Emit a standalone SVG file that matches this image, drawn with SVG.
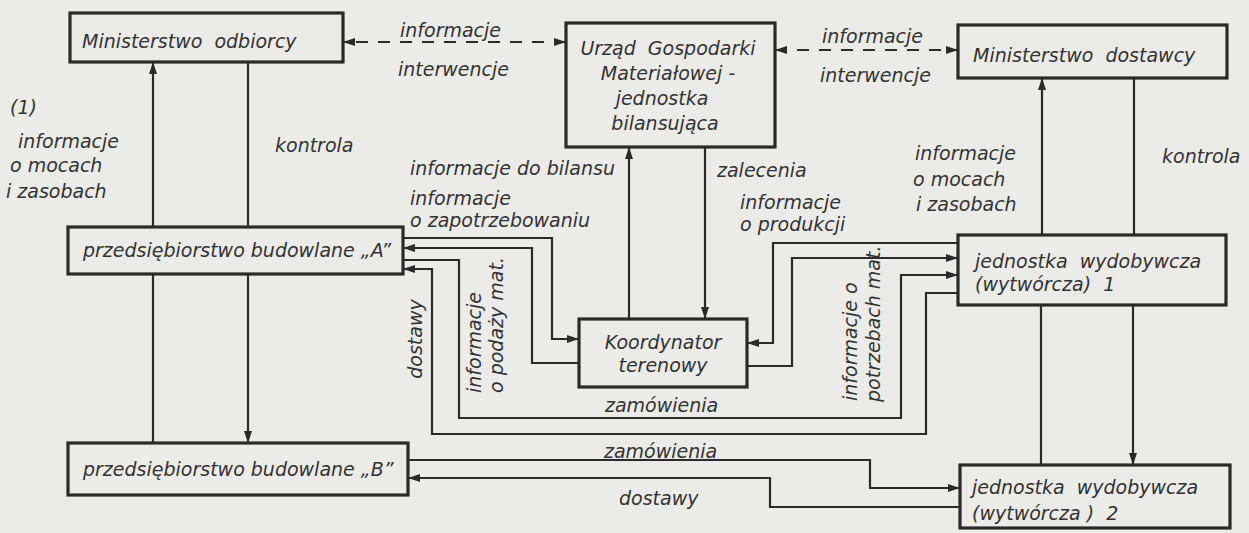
<svg xmlns="http://www.w3.org/2000/svg" width="1249" height="533" viewBox="0 0 1249 533">
<style>
.box{fill:#ebebe9;stroke:#2a2a2a;stroke-width:3.2}
.t{font-family:"DejaVu Sans",sans-serif;font-style:italic;font-size:19px;fill:#333}
.c{text-anchor:middle}
.ln{fill:none;stroke:#2a2a2a;stroke-width:2.2}
.ar{marker-end:url(#ah)}
.dash{stroke-dasharray:12 10;marker-start:url(#ah);marker-end:url(#ah)}
</style>
<defs>
<marker id="ah" markerUnits="userSpaceOnUse" markerWidth="13" markerHeight="9" refX="12" refY="4.5" orient="auto-start-reverse">
<path d="M0,0.5 L12,4.5 L0,8.5 z" fill="#2a2a2a"/>
</marker>
</defs>
<rect width="1249" height="533" fill="#ebebe9"/>

<g id="connectors">
<path class="ln dash" d="M566,42 H343"/>
<path class="ln dash" d="M775,50 H958"/>
<path class="ln ar" d="M153,227 V62"/>
<path class="ln" d="M153,443 V274"/>
<path class="ln" d="M248,62 V227"/>
<path class="ln ar" d="M248,274 V443"/>
<path class="ln ar" d="M629,319 V147"/>
<path class="ln ar" d="M705,147 V319"/>
<path class="ln ar" d="M1042,235 V78"/>
<path class="ln" d="M1134,78 V235"/>
<path class="ln" d="M1041,465 V305"/>
<path class="ln ar" d="M1133,305 V465"/>
<path class="ln ar" d="M403,238 H552 V339 H579"/>
<path class="ln ar" d="M579,363 H532 V248 H403"/>
<path class="ln ar" d="M403,260 H459 V418 H901 V275 H958"/>
<path class="ln ar" d="M958,293 H926 V434 H432 V269 H403"/>
<path class="ln ar" d="M958,243 H773 V343 H747"/>
<path class="ln ar" d="M747,366 H792 V258 H958"/>
<path class="ln ar" d="M408,460 H870 V488 H960"/>
<path class="ln ar" d="M960,507 H770 V478 H408"/>

<text class="t" x="400" y="37">informacje</text>
<text class="t" x="398" y="76">interwencje</text>
<text class="t" x="822" y="43">informacje</text>
<text class="t" x="820" y="82">interwencje</text>
<text class="t" x="10" y="114">(1)</text>
<text class="t" x="18" y="148">informacje</text>
<text class="t" x="10" y="172">o mocach</text>
<text class="t" x="6" y="198">i zasobach</text>
<text class="t" x="275" y="152">kontrola</text>
<text class="t" x="615" y="175" text-anchor="end">informacje do bilansu</text>
<text class="t" x="717" y="177">zalecenia</text>
<text class="t" x="410" y="205">informacje</text>
<text class="t" x="410" y="227">o zapotrzebowaniu</text>
<text class="t" x="740" y="209">informacje</text>
<text class="t" x="740" y="231">o produkcji</text>
<text class="t" x="915" y="160">informacje</text>
<text class="t" x="913" y="186">o mocach</text>
<text class="t" x="916" y="211">i zasobach</text>
<text class="t" x="1162" y="163">kontrola</text>
<text class="t c" transform="translate(422,339) rotate(-90)">dostawy</text>
<text class="t" transform="translate(481,393) rotate(-90)">informacje</text>
<text class="t" transform="translate(503,393) rotate(-90)">o podaży mat.</text>
<text class="t" transform="translate(857,401) rotate(-90)">informacje o</text>
<text class="t" transform="translate(880,402) rotate(-90)">potrzebach mat.</text>
<text class="t" x="605" y="412">zamówienia</text>
<text class="t" x="604" y="458">zamówienia</text>
<text class="t" x="619" y="505">dostawy</text>
</g>

<g id="min-odbiorcy">
<rect class="box" x="70" y="13" width="273" height="49"/>
<text class="t" x="82" y="48" xml:space="preserve">Ministerstwo  odbiorcy</text>
</g>
<g id="urzad">
<rect class="box" x="566" y="23" width="209" height="124"/>
<text class="t c" x="668" y="55" xml:space="preserve">Urząd  Gospodarki</text>
<text class="t c" x="668" y="80">Materiałowej -</text>
<text class="t c" x="662" y="105">jednostka</text>
<text class="t c" x="665" y="130">bilansująca</text>
</g>
<g id="min-dostawcy">
<rect class="box" x="958" y="25" width="269" height="53"/>
<text class="t" x="973" y="62" xml:space="preserve">Ministerstwo  dostawcy</text>
</g>
<g id="przeds-a">
<rect class="box" x="68" y="227" width="335" height="47"/>
<text class="t" x="83" y="257">przedsiębiorstwo budowlane „A”</text>
</g>
<g id="koordynator">
<rect class="box" x="579" y="319" width="168" height="68"/>
<text class="t c" x="663" y="349">Koordynator</text>
<text class="t c" x="663" y="372">terenowy</text>
</g>
<g id="jedn-1">
<rect class="box" x="958" y="235" width="268" height="70"/>
<text class="t" x="975" y="268" xml:space="preserve">jednostka  wydobywcza</text>
<text class="t" x="975" y="291" xml:space="preserve">(wytwórcza)  1</text>
</g>
<g id="przeds-b">
<rect class="box" x="68" y="443" width="340" height="52"/>
<text class="t" x="83" y="476">przedsiębiorstwo budowlane „B”</text>
</g>
<g id="jedn-2">
<rect class="box" x="960" y="465" width="270" height="63"/>
<text class="t" x="972" y="494" xml:space="preserve">jednostka  wydobywcza</text>
<text class="t" x="972" y="520" xml:space="preserve">(wytwórcza )  2</text>
</g>
</svg>
